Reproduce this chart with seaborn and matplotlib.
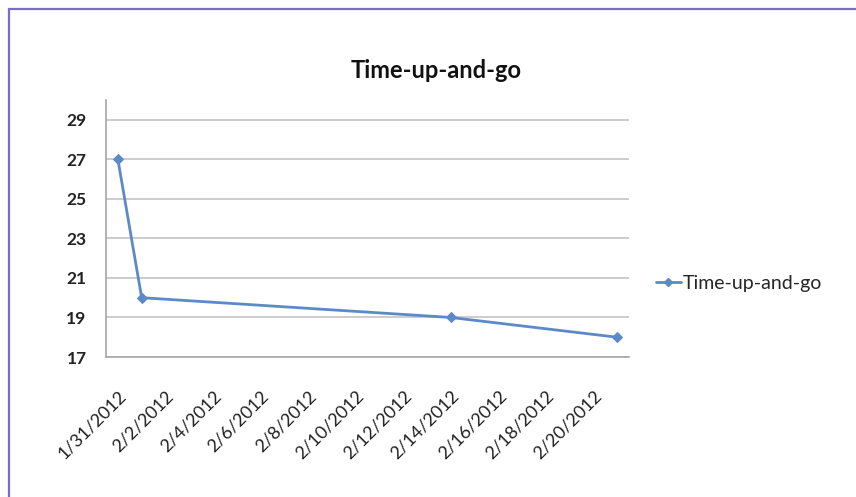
import matplotlib
matplotlib.use("Agg")
import matplotlib.pyplot as plt
from matplotlib.patches import Rectangle
from matplotlib.lines import Line2D
import seaborn as sns
import pandas as pd

# Measurements
dates = ["2012-01-31", "2012-02-01", "2012-02-14", "2012-02-21"]
seconds = [27, 20, 19, 18]
series_name = "Time-up-and-go"
y_ticks = [17, 19, 21, 23, 25, 27, 29]
label_dates = pd.date_range("2012-01-31", "2012-02-20", freq="2D")

df = pd.DataFrame({"date": pd.to_datetime(dates), "value": seconds})

sns.set_style("white")
plt.rcParams["font.family"] = ["Lato", "DejaVu Sans"]

W, H = 856, 497
fig = plt.figure(figsize=(W / 100, H / 100), dpi=100)
fig.patch.set_facecolor("white")

# Chart frame
fig.patches.append(Rectangle((8.5 / W, -0.2), 1.2, 1.2 - 8.5 / H,
                             transform=fig.transFigure, fill=False,
                             edgecolor="#7B6DC6", linewidth=1.6))

left, right, top, bottom = 106, 629, 100, 357
ax = fig.add_axes([left / W, 1 - bottom / H, (right - left) / W, (bottom - top) / H])

line_color = "#5B8AC8"
sns.lineplot(data=df, x="date", y="value", ax=ax, color=line_color,
             linewidth=2.0, marker="D", markersize=5, markeredgecolor=line_color,
             legend=False)

ax.set_xlim(pd.Timestamp("2012-01-30 12:00"), pd.Timestamp("2012-02-21 12:00"))
ax.set_ylim(17, 30)
ax.set_yticks(y_ticks)
ax.set_yticklabels([str(v) for v in y_ticks], fontsize=12.5, fontweight="bold",
                   color="#222222")

# Date labels on even days, tick marks on day boundaries
ax.set_xticks(label_dates)
ax.set_xticklabels([f"{d.month}/{d.day}/{d.year}" for d in label_dates],
                   rotation=45, ha="right", va="top", rotation_mode="anchor",
                   fontsize=13, color="#222222")
boundaries = pd.date_range("2012-01-30 12:00", "2012-02-21 12:00", freq="2D")
ax.set_xticks(boundaries, minor=True)
ax.tick_params(axis="x", which="major", length=0, pad=22)
ax.tick_params(axis="x", which="minor", length=5, color="#A6A6A6", width=1)
ax.tick_params(axis="y", which="major", length=7, color="#BFBFBF", width=1.2, pad=7)

ax.yaxis.grid(True, color="#C8C8C8", linewidth=1.3)
ax.xaxis.grid(False)
ax.set_axisbelow(True)
for side in ["top", "right"]:
    ax.spines[side].set_visible(False)
for side in ["left", "bottom"]:
    ax.spines[side].set_color("#A6A6A6")
    ax.spines[side].set_linewidth(1.2)
ax.set_xlabel("")
ax.set_ylabel("")

fig.text(436 / W, 1 - 70 / H, series_name, ha="center", va="center",
         fontsize=17, fontweight="bold", color="#111111")

handle = Line2D([], [], color=line_color, linewidth=2.0, marker="D",
                markersize=4, markeredgecolor=line_color)
fig.legend([handle], [series_name], loc="center left",
           bbox_to_anchor=(648 / W, 1 - 283 / H), frameon=False,
           fontsize=14, handlelength=1.3, handletextpad=0.1,
           borderaxespad=0)

fig.savefig("out.png", dpi=100)
